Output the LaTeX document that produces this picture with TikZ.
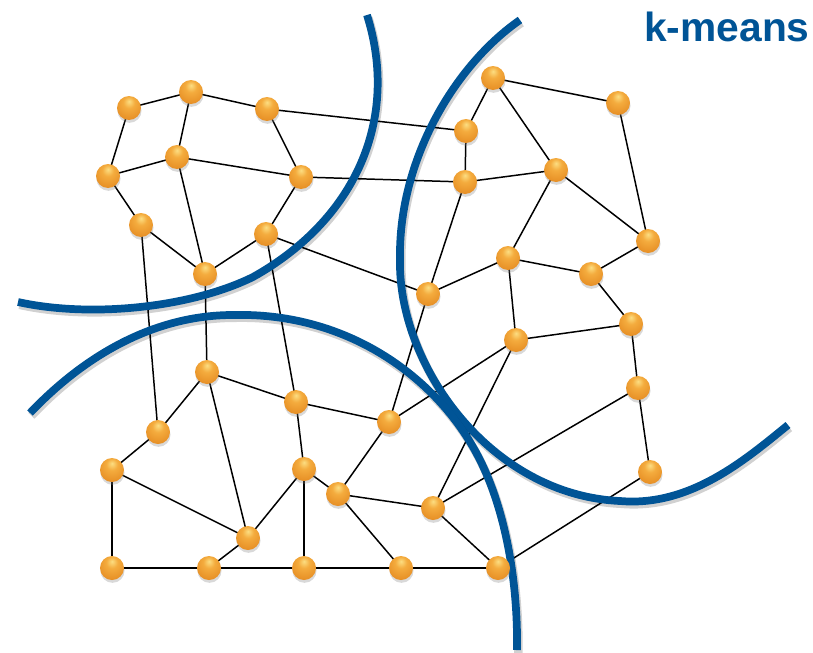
\documentclass[tikz,border=0pt]{standalone}
\usepackage{fontspec}
\setmainfont{Liberation Sans}
\usetikzlibrary{shadows}
\definecolor{kblue}{RGB}{0,84,150}
\definecolor{orbhi}{RGB}{252,222,130}
\definecolor{orbmid}{RGB}{244,172,62}
\definecolor{orbbody}{RGB}{232,146,40}
\definecolor{orbedge}{RGB}{196,112,28}
\definecolor{orbrim}{RGB}{160,92,30}
\pgfdeclareradialshading{orb}{\pgfpoint{0bp}{14bp}}{%
  color(0bp)=(orbhi); color(12bp)=(orbmid); color(30bp)=(orbbody);
  color(48bp)=(orbedge); color(58bp)=(orbrim); color(70bp)=(orbrim)}
\pgfdeclarelayer{background}
\pgfsetlayers{background,main}
\begin{document}
\begin{tikzpicture}[x=0.02cm,y=-0.02cm,
  ball/.style={circle, minimum size=0.48cm, inner sep=0pt, shading=orb,
    drop shadow={shadow xshift=0.3pt, shadow yshift=-1.6pt, opacity=0.3}},
  link/.style={line width=0.85pt, black},
  border/.style={line width=4.4pt, kblue,
    preaction={draw=black, opacity=0.18, line width=4.8pt,
      transform canvas={shift={(0.8pt,-1.6pt)}}}},
  title/.style={anchor=base east, inner sep=0pt, text=kblue,
    font=\fontsize{23.2}{28}\selectfont\bfseries}]
\useasboundingbox (0,0) rectangle (813,652);

% cluster nodes
\foreach \i/\x/\y in {
  1/129/108, 2/191/92, 3/267/109, 4/466/131, 5/493/78, 6/618/103,
  7/108/176, 8/177/157, 9/301/177, 10/465/182, 11/556/170, 12/141/225,
  13/266/234, 14/205/274, 15/648/241, 16/508/258, 17/591/274, 18/428/294,
  19/631/324, 20/516/340, 21/207/372, 22/296/402, 23/389/422, 24/158/432,
  25/638/388, 26/112/470, 27/304/469, 28/338/494, 29/433/508, 30/650/472,
  31/248/538, 32/112/568, 33/209/568, 34/304/568, 35/401/568, 36/498/568}
  \node[ball] (n\i) at (\x,\y) {};

\begin{pgfonlayer}{background}
% graph edges
\foreach \a/\b in {
  1/2, 2/3, 1/7, 2/8, 7/8, 8/9, 3/9, 3/4, 9/10, 7/12, 12/14, 8/14, 9/13,
  13/14, 13/18, 12/24, 14/21, 13/22, 4/5, 5/6, 5/11, 6/15, 4/10, 10/11,
  11/15, 10/18, 11/16, 16/18, 16/17, 17/15, 17/19, 16/20, 20/19, 19/25,
  25/30, 20/23, 20/29, 25/29, 30/36, 29/36, 28/29, 35/36, 18/23, 21/24,
  21/22, 21/31, 22/23, 22/27, 24/26, 26/31, 26/32, 27/31, 27/34, 27/28,
  23/28, 28/35, 31/33, 32/33, 33/34, 34/35}
  \draw[link] (n\a.center) -- (n\b.center);

% cluster boundaries
\draw[border] (367,15) .. controls (400,120) and (355,220) .. (253,277)
  .. controls (190,308) and (90,318) .. (18,302);
\draw[border] (520,20) .. controls (455,65) and (398,160) .. (400,260)
  .. controls (398,365) and (490,495) .. (620,501)
  .. controls (690,507) and (745,460) .. (788,425);
\draw[border] (30,413) .. controls (90,350) and (160,315) .. (233,315)
  .. controls (350,312) and (440,380) .. (480,460)
  .. controls (505,510) and (518,580) .. (517,650);
\end{pgfonlayer}

\node[title] (label) at (810,42) {k-means};
\end{tikzpicture}
\end{document}
